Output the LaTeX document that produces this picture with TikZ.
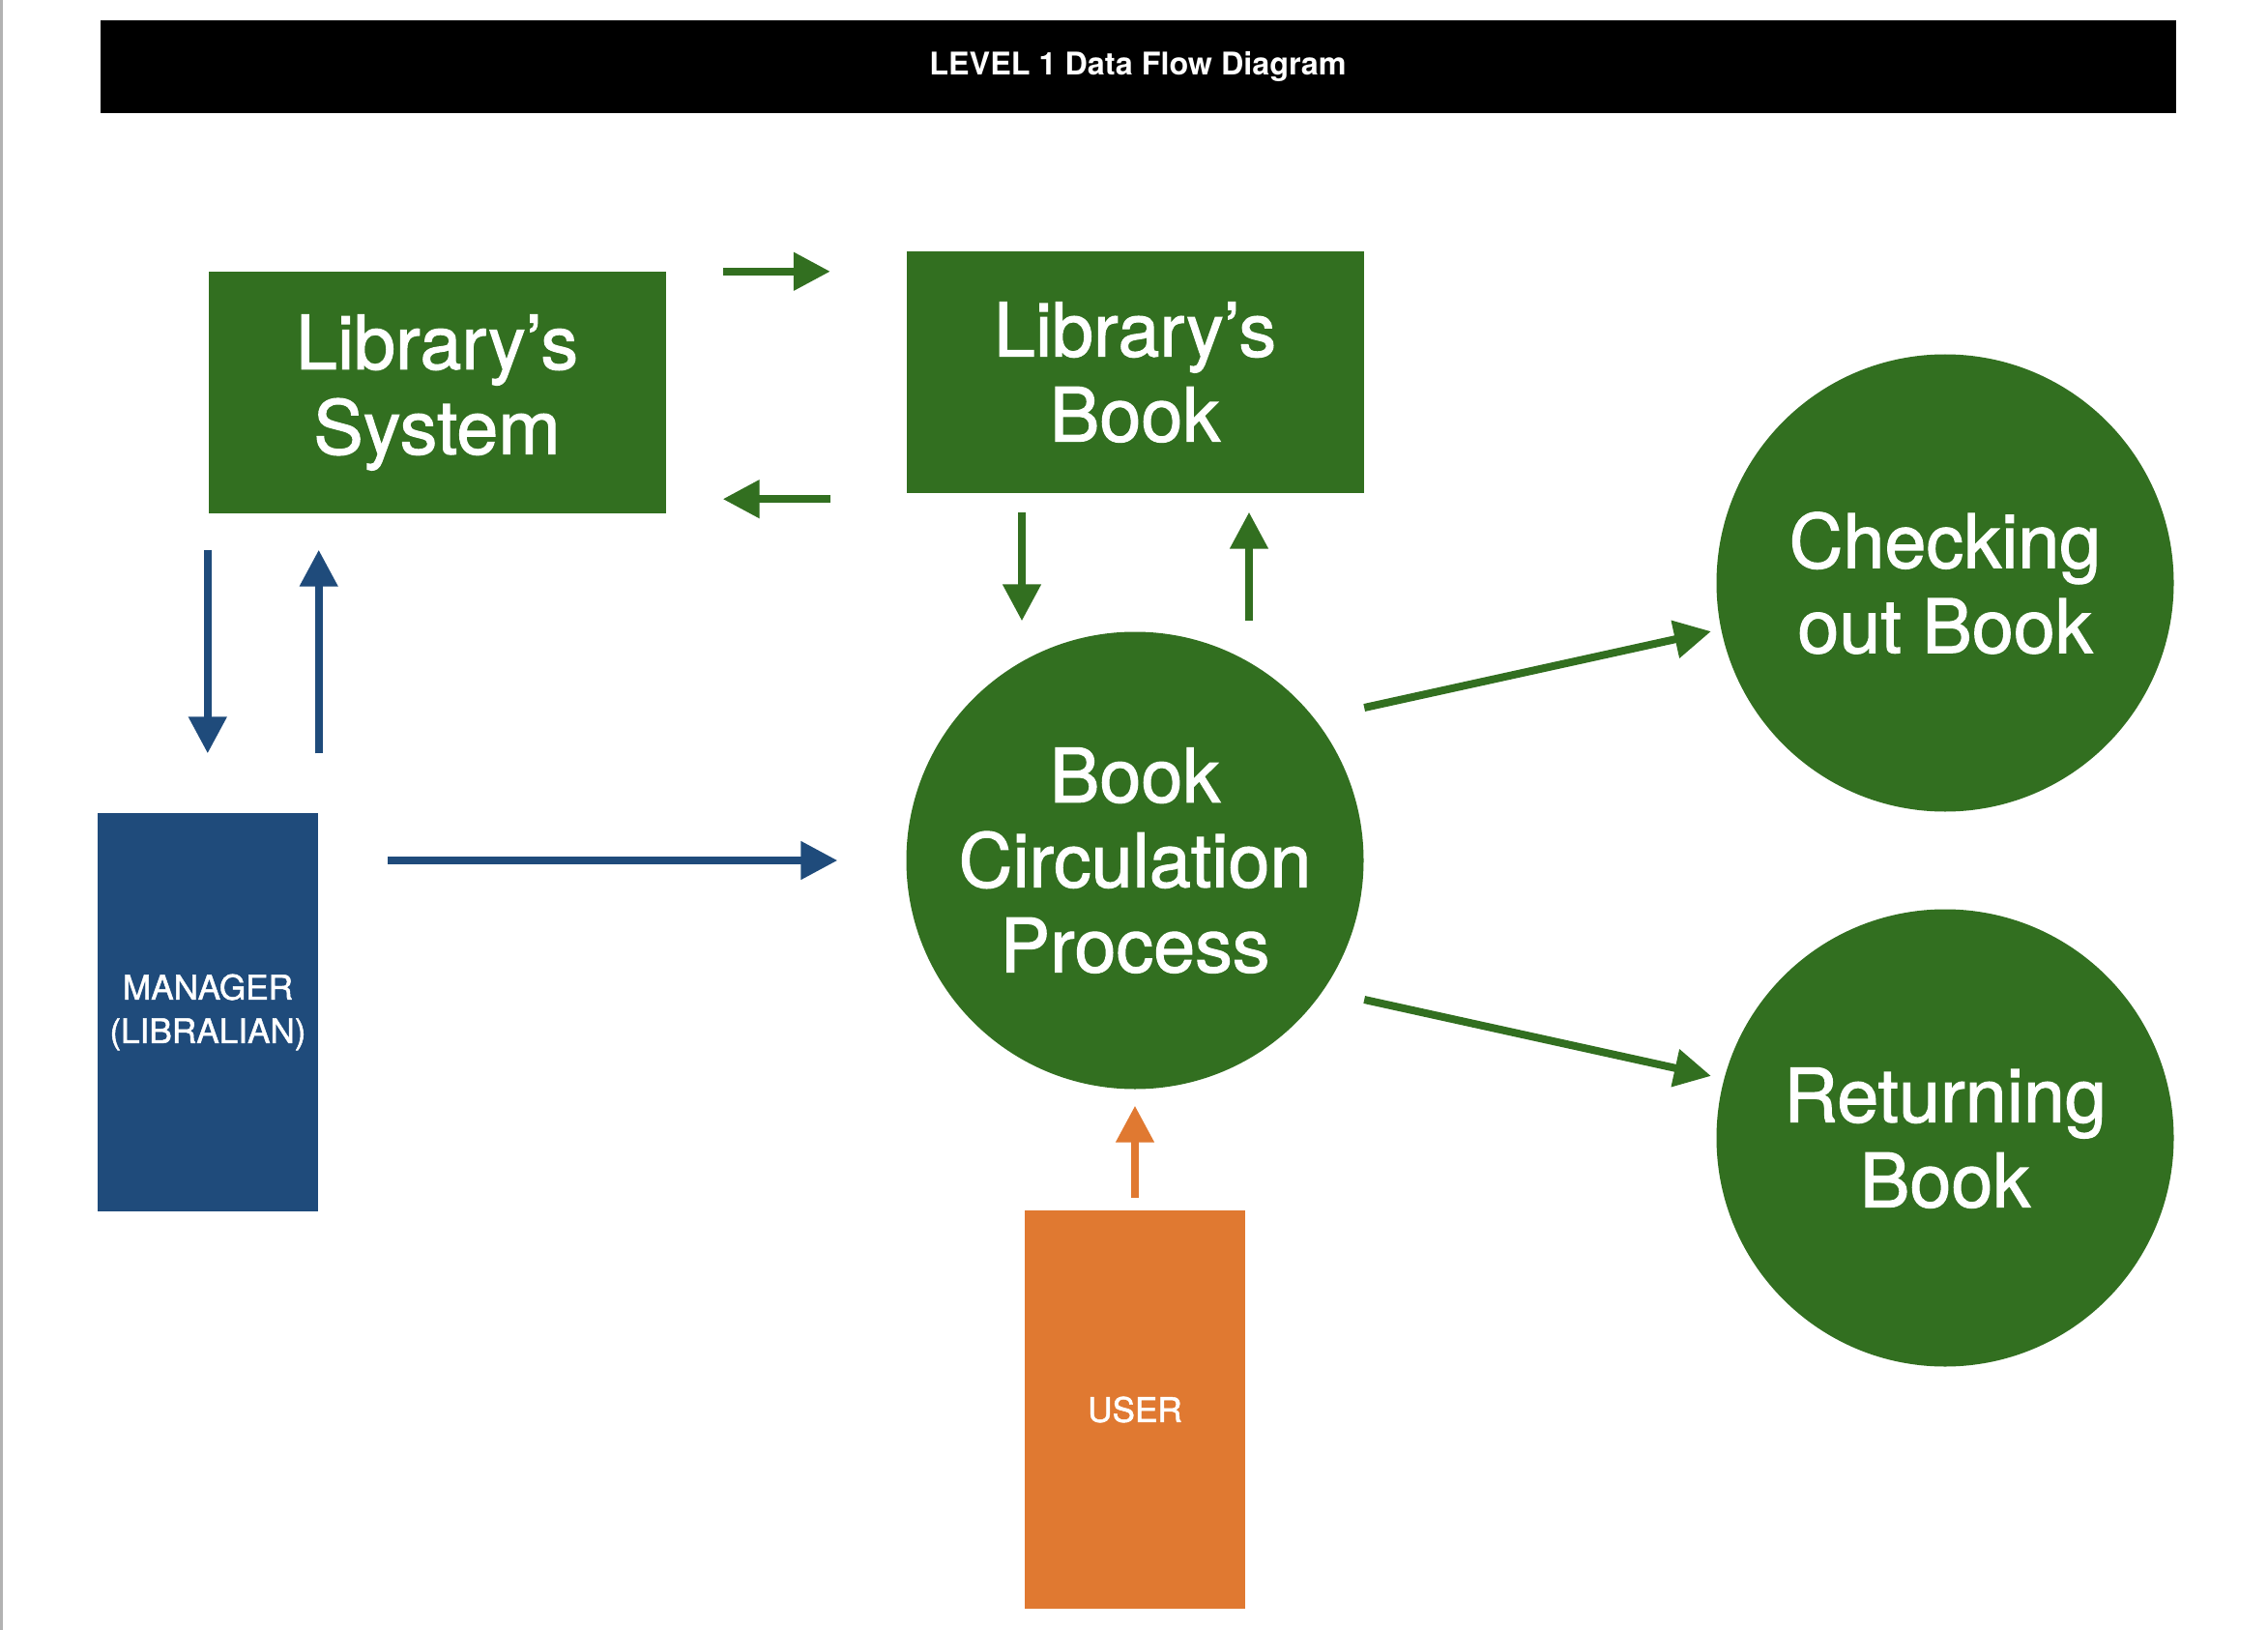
\documentclass[tikz,border=0pt]{standalone}
\usepackage{fontspec}
\setmainfont{TeX Gyre Heros}
\newfontfamily\medfont{TeX Gyre Heros}[FakeBold=1.4]
\usetikzlibrary{arrows.meta, positioning}

\definecolor{dfdgreen}{RGB}{50,111,32}
\definecolor{dfdblue}{RGB}{31,75,123}
\definecolor{dfdorange}{RGB}{224,121,49}

\begin{document}
\begin{tikzpicture} [node distance = 5cm, on grid,
  store/.style = {rectangle, fill=dfdgreen, text=white, align=center,
    minimum width=4.73cm, minimum height=2.49cm, inner sep=0pt,
    font=\medfont\fontsize{22}{25}\selectfont},
  proc/.style = {circle, fill=dfdgreen, text=white, align=center,
    minimum size=4.73cm, inner sep=0pt, font=\medfont\fontsize{22}{25}\selectfont},
  agent/.style = {rectangle, text=white, align=center,
    minimum width=2.28cm, minimum height=4.12cm, inner sep=0pt,
    font=\medfont\fontsize{10}{12.8}\selectfont},
  flowg/.style = {-{Triangle[length=0.38cm, width=0.38cm]}, line width=0.08cm, color=dfdgreen},
  flowb/.style = {flowg, color=dfdblue},
  flowo/.style = {flowg, color=dfdorange}]

\useasboundingbox (0,0) rectangle (23.46,-16.86);
\draw [gray!60, line width=0.03cm] (0.015,0) -- (0.015,-16.86);

\node (title) [fill=black, text=white, minimum width=21.47cm, minimum height=0.96cm,
  font=\fontsize{9.2}{11}\selectfont\bfseries] at (11.77,-0.69) {LEVEL 1 Data Flow Diagram};

\node (circ) [proc] at (11.74,-8.90) {Book\\Circulation\\Process};

\node (lbook) [store, above = 5.05cm of circ] {Library’s\\Book};
\node (lsys) [store, below left = 0.21cm and 7.22cm of lbook] {Library’s\\System};

\node (chk) [proc, above right = 2.87cm and 8.38cm of circ] {Checking\\out Book};
\node (ret) [proc, below right = 2.87cm and 8.38cm of circ] {Returning\\Book};

% external entities
\node (mgr) [agent, fill=dfdblue, below left = 1.57cm and 9.59cm of circ] {MANAGER\\(LIBRALIAN)};
\node (usr) [agent, fill=dfdorange, below = 5.68cm of circ] {USER};

\coordinate (bk) at ([yshift=-0.06cm]lbook.south west);

\path [flowg]
  (lsys.north east) edge [shorten <=0.585cm, shorten >=0.78cm] (lsys.north east -| lbook.west);
\path [flowg]
  (bk) edge [shorten <=0.78cm, shorten >=0.585cm] (bk -| lsys.east);
\path [flowg]
  ([xshift=-1.17cm]lbook.south) edge [shorten <=0.195cm, shorten >=0.105cm] ([xshift=-1.17cm]circ.north);
\path [flowg]
  ([xshift=1.18cm]circ.north) edge [shorten <=0.105cm, shorten >=0.195cm] ([xshift=1.18cm]lbook.south);

% manager
\path [flowb]
  (lsys.south west) edge [shorten <=0.375cm, shorten >=0.61cm] (lsys.south west |- mgr.north);
\path [flowb]
  (mgr.north east) edge [shorten <=0.61cm, shorten >=0.375cm] (mgr.north east |- lsys.south);
\path [flowb]
  (circ.west -| mgr.east) edge [shorten <=0.715cm, shorten >=0.705cm] (circ.west);

% outputs
\path [flowg]
  ([yshift=1.58cm]circ.east) edge [shorten >=0.05cm] ([yshift=-0.49cm]chk.west);
\path [flowg]
  ([yshift=-1.44cm]circ.east) edge [shorten >=0.05cm] ([yshift=0.63cm]ret.west);

% user
\path [flowo]
  (usr.north) edge [shorten <=0.12cm, shorten >=0.165cm] (circ.south);

\end{tikzpicture}
\end{document}
